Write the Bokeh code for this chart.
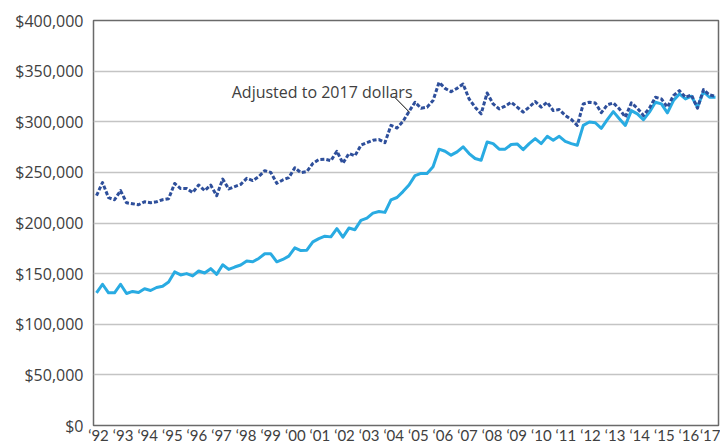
from bokeh.plotting import figure
from bokeh.models import (Range1d, LinearAxis, FixedTicker, NumeralTickFormatter,
                          ColumnDataSource, Label)
from bokeh.embed import file_html
from bokeh.resources import INLINE

# ---------------- data (thousands of dollars, quarterly 1992Q1 .. 2017Q4) -------------
quarter_index = list(range(104))

nominal_k = [
    131, 139.5, 131, 131, 139.5, 130.4, 132.4, 131.3, 135, 133.3,
    136.3, 137.6, 141.8, 151.7, 148.7, 150, 147.7, 152.6, 150.6, 154.9,
    149.3, 158.8, 154.2, 156.5, 158.5, 162.4, 161.7, 165, 169.6, 169.6,
    161.7, 164, 167.3, 175.5, 172.8, 173.2, 181.4, 184.6, 187, 186.3,
    194.4, 186, 195, 193.4, 202.6, 204.9, 209.8, 211.4, 210.5, 222.8,
    225.2, 231, 237.5, 246.8, 249, 249, 255.6, 272.9, 270.9, 267,
    270.3, 275.2, 268.6, 263.7, 262, 280, 278.4, 272.9, 272.9, 277.5,
    278.1, 272.5, 278.4, 283.3, 278.4, 285.6, 281.7, 285.6, 280.7, 278.4,
    276.8, 296.4, 299.7, 299, 293.5, 302, 310, 303, 296.4, 311,
    307.8, 302, 309.5, 319.3, 317.6, 308.8, 320.9, 327.5, 322.5, 325.2,
    314.4, 329.7, 324.2, 324.2,
]

adjusted_k = [
    227, 240, 225, 223, 232, 220, 219, 218, 221, 220,
    221, 223, 224, 239, 234, 234, 230, 237.5, 232, 237.5,
    227, 243.4, 233.6, 236, 238.2, 244.1, 241.9, 245.8, 251.7, 250,
    239.2, 242.5, 244.8, 254.6, 249.7, 250.7, 258.8, 262.7, 263, 261.5,
    270.9, 259, 268.6, 266.4, 276.8, 279.4, 281.7, 282.4, 279.4, 296.4,
    293.8, 300.3, 310.1, 319.3, 313.4, 314.4, 320.9, 338.9, 333, 329.7,
    333, 337.3, 322.5, 314.4, 307.8, 328.4, 317.6, 312.7, 315.4, 319.3,
    314.4, 309.5, 314.4, 320, 314.4, 319.3, 311, 312, 306.2, 302.3,
    296.4, 317.6, 319.3, 318.6, 309, 316.7, 318.6, 312.7, 304.6, 318.6,
    313.4, 306.2, 313.4, 324.2, 322.5, 314.4, 325.8, 330.7, 324.2, 326.5,
    313.4, 331.7, 326.5, 325.2,
]

year_ticks = list(range(1992, 2018))
tick_labels = ["\u2018%02d" % (y % 100) for y in year_ticks]
y_ticks = [0, 50000, 100000, 150000, 200000, 250000, 300000, 350000, 400000]

annotation_text = "Adjusted to 2017 dollars"

# ---------------- styling -------------
FONT = "Open Sans"
XFONT = "Lato"
TEXT_COLOR = "#404040"
NOMINAL_COLOR = "#29ABE2"
ADJUSTED_COLOR = "#2E4F9B"

source = ColumnDataSource(dict(
    q=quarter_index,
    nominal=[v * 1000 for v in nominal_k],
    adjusted=[v * 1000 for v in adjusted_k],
))

p = figure(width=720, height=446, output_backend="svg", toolbar_location=None,
           x_range=Range1d(-0.5, 103.5), y_range=Range1d(0, 400000),
           x_axis_location=None,
           min_border_left=93, min_border_right=2, min_border_top=20,
           min_border_bottom=0)
p.background_fill_color = "white"
p.border_fill_color = "white"
p.outline_line_color = "#6a6a6a"
p.outline_line_width = 1.5

# year labels placed on their own scale (label row spacing differs from quarters)
p.extra_x_ranges = {"labels": Range1d(1991.797, 2017.203)}
xaxis = LinearAxis(x_range_name="labels",
                   ticker=FixedTicker(ticks=year_ticks),
                   major_label_overrides={y: t for y, t in zip(year_ticks, tick_labels)})
xaxis.axis_line_color = None
xaxis.major_tick_out = 0
xaxis.major_tick_in = 0
xaxis.minor_tick_out = 0
xaxis.minor_tick_in = 0
xaxis.major_label_standoff = 0
xaxis.major_label_text_font = XFONT
xaxis.major_label_text_font_size = "15px"
xaxis.major_label_text_color = TEXT_COLOR
p.add_layout(xaxis, "below")

yaxis = p.yaxis[0]
yaxis.ticker = FixedTicker(ticks=y_ticks)
yaxis.formatter = NumeralTickFormatter(format="$0,0")
yaxis.axis_line_color = None
yaxis.major_tick_out = 0
yaxis.major_tick_in = 0
yaxis.minor_tick_out = 0
yaxis.minor_tick_in = 0
yaxis.major_label_standoff = 10
yaxis.major_label_text_font = FONT
yaxis.major_label_text_font_size = "16px"
yaxis.major_label_text_color = TEXT_COLOR

p.xgrid.visible = False
p.ygrid.ticker = FixedTicker(ticks=y_ticks)
p.ygrid.grid_line_color = "#c4c4c4"
p.ygrid.grid_line_width = 1.3

p.line("q", "nominal", source=source, line_color=NOMINAL_COLOR, line_width=3,
       line_join="round")
p.line("q", "adjusted", source=source, line_color=ADJUSTED_COLOR, line_width=3,
       line_dash="4 2", line_join="round")

# annotation with leader line
LABEL_X, LABEL_Y = 22.5, 329600
LEADER = dict(x0=[49.5], y0=[324900], x1=[52.1], y1=[309300])
p.add_layout(Label(x=LABEL_X, y=LABEL_Y, text=annotation_text,
                   text_font=FONT, text_font_size="16px", text_color=TEXT_COLOR,
                   text_baseline="alphabetic", text_align="left"))
p.segment(source=ColumnDataSource(LEADER), x0="x0", y0="y0", x1="x1", y1="y1",
          line_color="#000000", line_width=1)

open("out.html", "w").write(file_html(p, INLINE))
